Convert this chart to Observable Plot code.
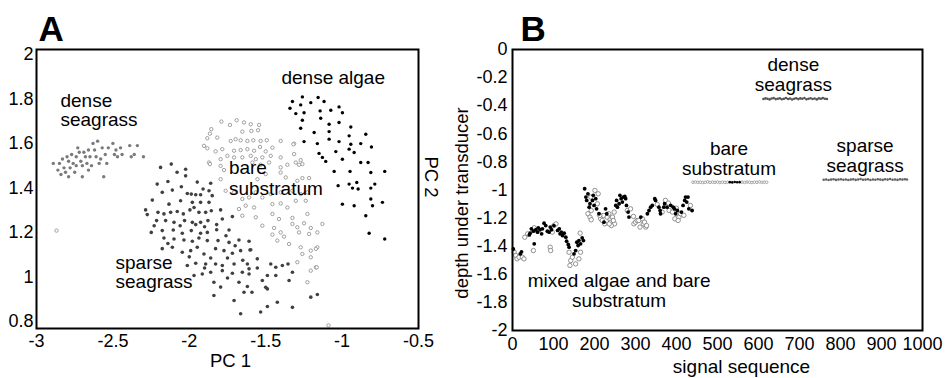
<!DOCTYPE html>
<html><head><meta charset="utf-8">
<script src="https://cdn.jsdelivr.net/npm/d3@7"></script>
<script src="https://cdn.jsdelivr.net/npm/@observablehq/plot@0.6"></script>
<style>
html,body{margin:0;padding:0;background:#fff;}
#wrap{display:flex;width:948px;height:378px;overflow:hidden;}
svg{overflow:visible;}
</style></head><body><div id="wrap"></div>
<script>
// ---------- Panel A : PCA scores (PC 1, PC 2) ----------
const pc1Ticks = [-3, -2.5, -2, -1.5, -1, -0.5];
const pc2Ticks = [0.8, 1, 1.2, 1.4, 1.6, 1.8, 2];

const denseSeagrassA = [
[-2.89,1.51],[-2.86,1.48],[-2.85,1.51],[-2.83,1.53],[-2.82,1.49],[-2.81,1.47],[-2.80,1.54],[-2.79,1.52],
[-2.78,1.49],[-2.77,1.55],[-2.76,1.51],[-2.75,1.47],[-2.74,1.54],[-2.73,1.58],[-2.72,1.56],[-2.71,1.52],
[-2.70,1.50],[-2.70,1.45],[-2.69,1.56],[-2.68,1.54],[-2.67,1.51],[-2.66,1.57],[-2.65,1.54],[-2.64,1.50],
[-2.63,1.60],[-2.62,1.57],[-2.61,1.54],[-2.60,1.61],[-2.59,1.51],[-2.57,1.58],[-2.56,1.45],[-2.55,1.55],
[-2.54,1.51],[-2.53,1.58],[-2.50,1.60],[-2.49,1.55],[-2.48,1.57],[-2.47,1.54],[-2.45,1.58],[-2.44,1.55],
[-2.39,1.59],[-2.36,1.55],[-2.34,1.59],[-2.30,1.54],[-2.79,1.45],[-2.84,1.46],[-2.66,1.48],[-2.74,1.50],
[-2.38,1.54],[-2.58,1.53]
];

const sparseSeagrassA = [
[-2.188,1.492],[-2.118,1.507],[-2.024,1.484],[-2.210,1.417],[-2.140,1.429],[-2.024,1.454],[-1.948,1.426],
[-1.860,1.421],[-2.177,1.380],[-2.111,1.390],[-2.052,1.405],[-2.013,1.375],[-1.987,1.372],[-1.958,1.369],
[-1.926,1.369],[-1.871,1.387],[-1.850,1.365],[-2.242,1.345],[-2.133,1.327],[-2.057,1.342],[-1.980,1.335],
[-1.926,1.335],[-1.871,1.335],[-2.275,1.280],[-2.286,1.301],[-2.205,1.290],[-2.166,1.283],[-2.122,1.290],
[-2.079,1.294],[-2.039,1.283],[-1.996,1.301],[-1.969,1.312],[-1.937,1.290],[-1.893,1.290],[-1.856,1.297],
[-1.795,1.301],[-2.214,1.253],[-2.155,1.253],[-2.100,1.245],[-2.031,1.253],[-1.980,1.245],[-1.958,1.235],
[-1.926,1.245],[-1.878,1.253],[-1.821,1.235],[-1.784,1.260],[-1.718,1.271],[-2.249,1.200],[-2.177,1.208],
[-2.105,1.211],[-2.046,1.196],[-1.987,1.208],[-1.926,1.196],[-1.882,1.200],[-1.821,1.212],[-1.740,1.211],
[-2.166,1.175],[-2.100,1.170],[-2.035,1.166],[-1.980,1.160],[-1.937,1.175],[-1.882,1.163],[-1.812,1.163],
[-1.740,1.155],[-1.675,1.166],[-1.609,1.160],[-2.177,1.127],[-2.111,1.133],[-2.046,1.111],[-1.991,1.118],
[-1.948,1.133],[-1.904,1.103],[-1.828,1.127],[-1.773,1.118],[-1.718,1.106],[-1.664,1.118],[-1.598,1.122],
[-2.013,1.051],[-1.958,1.061],[-1.893,1.058],[-1.828,1.058],[-1.784,1.051],[-1.707,1.058],[-1.620,1.058],
[-1.609,1.036],[-1.969,1.006],[-1.915,1.013],[-1.860,1.021],[-1.784,1.028],[-1.718,1.016],[-1.653,1.021],
[-1.609,1.013],[-1.555,1.040],[-1.839,0.976],[-1.795,0.954],[-1.675,0.976],[-1.642,0.931],[-1.590,0.931],
[-1.839,0.916],[-1.707,0.894],[-1.664,0.834],[-1.467,1.058],[-1.434,1.043],[-1.391,1.051],[-1.354,1.058],
[-1.325,1.021],[-1.489,1.006],[-1.434,1.006],[-1.347,0.984],[-1.522,0.984],[-1.489,0.946],[-1.424,0.886],
[-1.489,0.867],[-1.533,0.842],[-1.325,0.863],[-1.205,0.909],[-1.162,0.921],[-1.603,1.121],[-1.555,1.081],
[-1.620,0.957],[-1.500,0.953],[-2.230,1.230],[-2.060,1.230],[-1.900,1.225],[-1.760,1.185],[-1.700,1.140],
[-2.140,1.150],[-2.000,1.090],[-1.860,1.085],[-1.750,1.085],[-1.650,1.075],[-1.900,1.040],[-1.750,0.995],
[-2.080,1.470],[-1.910,1.395]
];

const bareSubstratumA = [
[-1.790,1.698],[-1.734,1.683],[-1.690,1.704],[-1.642,1.694],[-1.598,1.686],[-1.543,1.683],[-1.653,1.653],
[-1.594,1.656],[-1.550,1.659],[-1.865,1.644],[-1.817,1.626],[-1.729,1.611],[-1.697,1.619],[-1.664,1.614],
[-1.620,1.611],[-1.581,1.614],[-1.533,1.611],[-1.493,1.614],[-1.402,1.611],[-1.904,1.589],[-1.882,1.578],
[-1.828,1.564],[-1.784,1.574],[-1.707,1.567],[-1.664,1.570],[-1.620,1.574],[-1.576,1.567],[-1.537,1.584],
[-1.500,1.564],[-1.456,1.581],[-1.314,1.599],[-1.795,1.529],[-1.751,1.544],[-1.707,1.537],[-1.653,1.537],
[-1.598,1.544],[-1.565,1.529],[-1.522,1.537],[-1.467,1.544],[-1.402,1.537],[-1.314,1.552],[-1.871,1.514],
[-1.795,1.499],[-1.773,1.480],[-1.587,1.514],[-1.533,1.504],[-1.478,1.514],[-1.402,1.492],[-1.358,1.504],
[-1.303,1.514],[-1.271,1.525],[-1.282,1.504],[-1.795,1.439],[-1.762,1.387],[-1.554,1.439],[-1.500,1.462],
[-1.402,1.469],[-1.369,1.447],[-1.293,1.432],[-1.260,1.444],[-1.216,1.444],[-1.707,1.380],[-1.653,1.350],
[-1.609,1.357],[-1.565,1.380],[-1.522,1.357],[-1.467,1.372],[-1.402,1.380],[-1.325,1.387],[-1.271,1.372],
[-1.227,1.380],[-1.238,1.342],[-1.675,1.305],[-1.631,1.320],[-1.576,1.312],[-1.456,1.327],[-1.402,1.330],
[-1.358,1.312],[-1.303,1.342],[-1.653,1.275],[-1.565,1.268],[-1.456,1.283],[-1.413,1.260],[-1.325,1.265],
[-1.227,1.283],[-1.522,1.230],[-1.445,1.220],[-1.325,1.238],[-1.293,1.223],[-1.249,1.241],[-1.205,1.220],
[-1.456,1.190],[-1.402,1.200],[-1.380,1.181],[-1.282,1.200],[-1.216,1.193],[-1.162,1.200],[-1.424,1.163],
[-1.347,1.148],[-1.271,1.133],[-1.205,1.118],[-1.260,1.103],[-1.162,1.133],[-1.293,1.066],[-1.205,1.088],
[-1.205,1.028],[-1.172,1.043],[-1.227,0.976],[-1.865,1.507],[-1.856,1.664],[-1.882,1.623],[-1.129,1.238],
[-1.172,1.126],[-1.166,1.043],[-1.319,1.596],[-1.260,1.507],[-2.869,1.208],[-1.089,0.782]
];

const denseAlgaeA = [
[-1.260,1.809],[-1.157,1.806],[-1.325,1.788],[-1.271,1.773],[-1.205,1.783],[-1.118,1.788],[-1.341,1.758],
[-1.303,1.734],[-1.249,1.738],[-1.144,1.746],[-1.074,1.749],[-1.020,1.764],[-0.998,1.738],[-1.260,1.704],
[-1.140,1.713],[-1.020,1.694],[-1.085,1.686],[-0.943,1.674],[-1.271,1.668],[-1.183,1.649],[-1.085,1.653],
[-0.954,1.634],[-0.845,1.641],[-1.249,1.608],[-1.162,1.599],[-1.085,1.619],[-1.020,1.608],[-0.943,1.596],
[-0.954,1.574],[-0.878,1.599],[-0.921,1.559],[-0.808,1.584],[-1.041,1.563],[-1.151,1.555],[-1.129,1.537],
[-1.107,1.519],[-0.998,1.529],[-0.878,1.514],[-0.830,1.514],[-1.052,1.474],[-0.948,1.474],[-0.812,1.469],
[-0.721,1.474],[-1.026,1.410],[-0.954,1.417],[-0.932,1.399],[-0.904,1.424],[-0.895,1.395],[-0.812,1.399],
[-0.786,1.417],[-0.998,1.327],[-0.921,1.320],[-0.812,1.350],[-0.801,1.320],[-0.736,1.335],[-0.845,1.275],
[-0.823,1.196],[-0.721,1.170]
];

// ---------- Panel B : depth under transducer vs signal sequence ----------
const seqTicks = [0, 100, 200, 300, 400, 500, 600, 700, 800, 900, 1000];
const depthTicks = [0, -0.2, -0.4, -0.6, -0.8, -1, -1.2, -1.4, -1.6, -1.8, -2];

const mixedAlgaeB = [
[2,-1.42],[19,-1.455],[22,-1.44],[41,-1.32],[43,-1.307],[46,-1.276],[51,-1.293],[57,-1.283],[61,-1.300],
[63,-1.269],[67,-1.283],[71,-1.312],[73,-1.276],[77,-1.236],[81,-1.253],[85,-1.293],[89,-1.300],[92,-1.264],
[95,-1.283],[101,-1.253],[110,-1.288],[114,-1.276],[116,-1.312],[119,-1.300],[122,-1.324],[126,-1.307],
[130,-1.336],[132,-1.364],[136,-1.388],[138,-1.407],[53,-1.383],[150,-1.455],[154,-1.431],[157,-1.372],
[160,-1.395],[162,-1.360],[166,-1.383],[170,-1.341],[173,-1.360],
[176,-0.991],[179,-1.050],[181,-1.074],[184,-1.027],[187,-1.122],[189,-1.098],[195,-1.074],[197,-1.038],
[199,-1.110],[203,-1.062],[205,-1.134],[211,-1.169],[223,-1.229],[227,-1.134],[230,-1.169],[252,-1.110],
[254,-1.074],[256,-1.122],[260,-1.098],[262,-1.038],[265,-1.062],[268,-1.086],[270,-1.050],[274,-1.046],
[276,-1.062],[278,-1.110],[282,-1.157],[284,-1.193],[313,-1.193],[329,-1.169],[333,-1.146],[337,-1.122],
[341,-1.110],[347,-1.062],[349,-1.074],[357,-1.122],[360,-1.146],[361,-1.169],[369,-1.122],[371,-1.098],
[377,-1.122],[386,-1.110],[392,-1.122],[395,-1.134],[398,-1.169],[402,-1.146],[412,-1.157],[416,-1.110],
[420,-1.074],[422,-1.050],[425,-1.086],[428,-1.050],[430,-1.134],[438,-1.146]
];

const mixedBareB = [
[4,-1.443],[8,-1.466],[11,-1.490],[16,-1.478],[24,-1.478],[28,-1.490],[30,-1.336],[37,-1.312],[53,-1.269],
[51,-1.431],[92,-1.407],[93,-1.431],[97,-1.300],[101,-1.253],[106,-1.241],[142,-1.502],[140,-1.537],
[138,-1.443],[146,-1.478],[154,-1.526],[162,-1.490],[165,-1.307],[166,-1.443],[191,-1.050],[192,-1.146],
[201,-1.003],[207,-1.098],[209,-1.027],[184,-1.169],[189,-1.193],[192,-1.212],[215,-1.205],[219,-1.217],
[222,-1.181],[231,-1.193],[235,-1.169],[238,-1.212],[239,-1.229],[244,-1.193],[248,-1.157],[249,-1.241],
[280,-1.146],[288,-1.134],[295,-1.188],[296,-1.241],[300,-1.229],[304,-1.217],[308,-1.217],[311,-1.264],
[317,-1.205],[319,-1.241],[322,-1.229],[325,-1.264],[327,-1.253],[353,-1.103],[365,-1.157],[373,-1.074],
[382,-1.146],[390,-1.157],[406,-1.193],[410,-1.169],[434,-1.110],[225,-1.241],[241,-1.253],[246,-1.217],
[213,-1.181],[236,-1.241],[396,-1.205],[404,-1.217],[400,-1.130],[380,-1.093],[418,-1.180]
];

const denseSeagrassSeq = [612,617,622,627,632,637,642,647,652,657,662,667,672,677,682,687,692,697,702,707,712,717,722,727,732,737,742,747,752,757,762,767];
const denseSeagrassDepth = [-0.352,-0.348,-0.351,-0.355,-0.349,-0.346,-0.353,-0.350,-0.347,-0.354,-0.351,-0.345,-0.352,-0.349,-0.356,-0.350,-0.347,-0.353,-0.348,-0.351,-0.345,-0.354,-0.350,-0.347,-0.352,-0.349,-0.355,-0.348,-0.351,-0.346,-0.350,-0.352];

const bareStripSeq = [440,446,452,458,464,470,476,482,488,494,500,506,512,518,524,560,566,572,578,584,590,596,602,608,614,620];
const bareStripDepth = [-0.945,-0.943,-0.946,-0.944,-0.947,-0.945,-0.942,-0.946,-0.944,-0.945,-0.943,-0.947,-0.944,-0.946,-0.945,-0.944,-0.946,-0.943,-0.945,-0.947,-0.944,-0.945,-0.942,-0.946,-0.944,-0.945];
const algaeStripSeq = [530,536,542,548,554];
const algaeStripDepth = [-0.944,-0.946,-0.943,-0.945,-0.944];

const sparseSeagrassSeq = [759,765,771,777,783,789,795,801,807,813,819,825,831,837,843,849,855,861,867,873,879,885,891,897,903,909,915,921,927,933,939,945,951,957,962];
const sparseSeagrassDepth = [-0.927,-0.925,-0.929,-0.926,-0.924,-0.928,-0.926,-0.923,-0.927,-0.925,-0.929,-0.926,-0.924,-0.928,-0.925,-0.922,-0.927,-0.926,-0.924,-0.929,-0.925,-0.927,-0.923,-0.926,-0.928,-0.924,-0.926,-0.922,-0.927,-0.925,-0.928,-0.924,-0.926,-0.923,-0.925];

const zip = (a, b) => a.map((v, i) => [v, b[i]]);
const FONT = "'Liberation Sans', Arial, Helvetica, sans-serif";
const ANN = 19;
const TICK = 18;

const plotA = Plot.plot({
  width: 445, height: 378,
  marginLeft: 36, marginRight: 27, marginTop: 49, marginBottom: 50,
  style: {fontFamily: FONT, background: "white", color: "black", overflow: "visible"},
  x: {domain: [-3, -0.5]},
  y: {domain: [0.768, 2.022]},
  marks: [
    Plot.axisX({ticks: pc1Ticks, tickSize: 0, tickPadding: 6, fontSize: TICK, tickFormat: d => String(d), label: null}),
    Plot.axisY({ticks: pc2Ticks, tickSize: 0, tickPadding: 3, fontSize: TICK, tickFormat: d => String(d), label: null}),
    Plot.dot(bareSubstratumA, {x: d => d[0], y: d => d[1], r: 1.7, stroke: "#8a8a8a", strokeWidth: 0.8, fill: "white"}),
    Plot.dot(denseSeagrassA, {x: d => d[0], y: d => d[1], r: 1.7, fill: "#7a7a7a"}),
    Plot.dot(sparseSeagrassA, {x: d => d[0], y: d => d[1], r: 1.8, fill: "#404040"}),
    Plot.dot(denseAlgaeA, {x: d => d[0], y: d => d[1], r: 1.7, fill: "black"}),
    Plot.text(["dense\nseagrass"], {x: -2.843, y: 1.676, text: d => d, textAnchor: "start", lineAnchor: "bottom", lineHeight: 1.03, fontSize: ANN}),
    Plot.text(["dense algae"], {x: -1.058, y: 1.865, text: d => d, lineAnchor: "bottom", fontSize: ANN}),
    Plot.text(["bare\nsubstratum"], {x: -1.741, y: 1.370, text: d => d, textAnchor: "start", lineAnchor: "bottom", lineHeight: 1.08, fontSize: ANN}),
    Plot.text(["sparse\nseagrass"], {x: -2.483, y: 0.948, text: d => d, textAnchor: "start", lineAnchor: "bottom", lineHeight: 1.05, fontSize: ANN}),
    Plot.frame({stroke: "black", strokeWidth: 2}),
    Plot.text(["A"], {frameAnchor: "top-left", text: d => d, textAnchor: "start", lineAnchor: "bottom", dx: 2, dy: -9, fontSize: 35, fontWeight: "bold"}),
    Plot.text(["PC 1"], {frameAnchor: "bottom", text: d => d, lineAnchor: "bottom", dx: 3, dy: 38, fontSize: 18.5}),
    Plot.text(["PC 2"], {frameAnchor: "right", text: d => d, textAnchor: "middle", rotate: 90, dx: 12, dy: -12, fontSize: 18.5})
  ]
});

const plotB = Plot.plot({
  width: 503, height: 378,
  marginLeft: 67, marginRight: 26, marginTop: 49, marginBottom: 48,
  style: {fontFamily: FONT, background: "white", color: "black", overflow: "visible"},
  x: {domain: [0, 1000]},
  y: {domain: [-2, 0]},
  marks: [
    Plot.axisX({ticks: seqTicks, tickSize: 0, tickPadding: 7, fontSize: TICK, tickFormat: d => String(d), label: null}),
    Plot.axisY({ticks: depthTicks, tickSize: 0, tickPadding: 5, fontSize: TICK, tickFormat: d => String(d), label: null}),
    Plot.dot(mixedBareB, {x: d => d[0], y: d => d[1], r: 2.2, stroke: "#777", strokeWidth: 0.8, fill: "white"}),
    Plot.dot(mixedAlgaeB, {x: d => d[0], y: d => d[1], r: 1.9, fill: "black"}),
    Plot.dot(zip(bareStripSeq, bareStripDepth), {x: d => d[0], y: d => d[1], r: 1.3, stroke: "#888", strokeWidth: 0.7, fill: "white"}),
    Plot.dot(zip(algaeStripSeq, algaeStripDepth), {x: d => d[0], y: d => d[1], r: 1.3, fill: "black"}),
    Plot.dot(zip(denseSeagrassSeq, denseSeagrassDepth), {x: d => d[0], y: d => d[1], r: 1.3, fill: "#555"}),
    Plot.dot(zip(sparseSeagrassSeq, sparseSeagrassDepth), {x: d => d[0], y: d => d[1], r: 1.3, fill: "#666"}),
    Plot.text(["dense\nseagrass"], {x: 685, y: -0.294, text: d => d, lineAnchor: "bottom", lineHeight: 1.03, fontSize: ANN}),
    Plot.text(["bare\nsubstratum"], {x: 528, y: -0.896, text: d => d, lineAnchor: "bottom", lineHeight: 1.05, fontSize: ANN}),
    Plot.text(["sparse\nseagrass"], {x: 860, y: -0.872, text: d => d, lineAnchor: "bottom", lineHeight: 1.05, fontSize: ANN}),
    Plot.text(["mixed algae and bare\nsubstratum"], {x: 260, y: -1.835, text: d => d, lineAnchor: "bottom", lineHeight: 1.05, fontSize: ANN}),
    Plot.frame({stroke: "black", strokeWidth: 2}),
    Plot.text(["B"], {frameAnchor: "top-left", text: d => d, textAnchor: "start", lineAnchor: "bottom", dx: 8, dy: -9, fontSize: 35, fontWeight: "bold"}),
    Plot.text(["signal sequence"], {frameAnchor: "bottom", text: d => d, lineAnchor: "bottom", dx: 24, dy: 42, fontSize: 19}),
    Plot.text(["depth under transducer"], {frameAnchor: "left", text: d => d, textAnchor: "middle", rotate: -90, dx: -50, dy: 13, fontSize: 18.5})
  ]
});

const wrap = document.getElementById("wrap");
wrap.appendChild(plotA);
wrap.appendChild(plotB);
</script></body></html>
